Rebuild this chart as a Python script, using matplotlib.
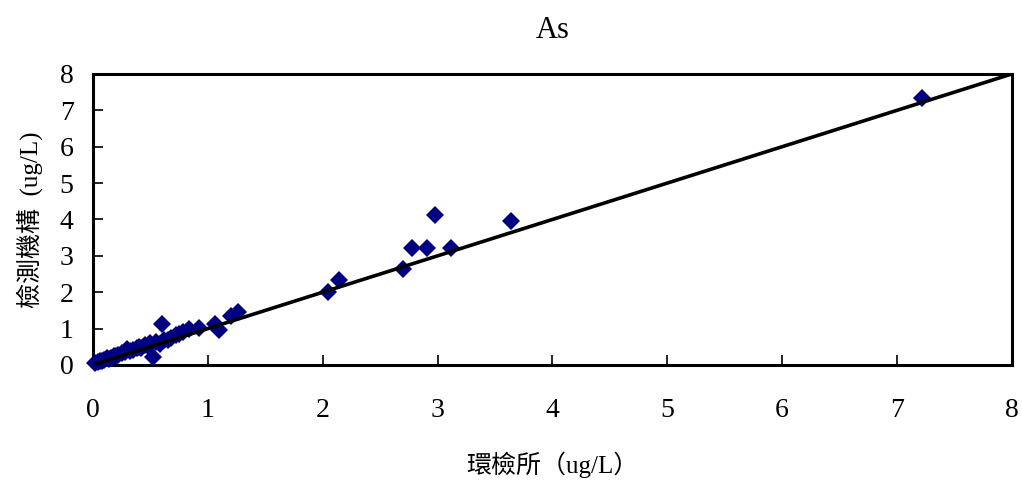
import matplotlib
matplotlib.use("Agg")
import matplotlib.pyplot as plt

# Arsenic results: environmental agency (x) vs. testing labs (y), ug/L
lab_epa = [0.02, 0.04, 0.06, 0.08, 0.10, 0.12, 0.14, 0.16, 0.18, 0.20,
           0.22, 0.25, 0.28, 0.30, 0.32, 0.35, 0.38, 0.40, 0.42, 0.45,
           0.48, 0.50, 0.52, 0.55, 0.58, 0.60, 0.62, 0.65, 0.68, 0.72,
           0.75, 0.78, 0.84, 0.92, 1.06, 1.10, 1.20, 1.26,
           2.05, 2.14, 2.70, 2.78, 2.91, 2.98, 3.12, 3.64, 7.22]
lab_test = [0.05, 0.08, 0.10, 0.12, 0.14, 0.18, 0.17, 0.20, 0.24, 0.25,
            0.28, 0.32, 0.35, 0.45, 0.38, 0.42, 0.48, 0.50, 0.46, 0.55,
            0.52, 0.60, 0.22, 0.62, 0.58, 1.12, 0.70, 0.68, 0.75, 0.82,
            0.86, 0.90, 1.00, 1.02, 1.12, 0.95, 1.35, 1.45,
            2.00, 2.33, 2.65, 3.22, 3.22, 4.12, 3.22, 3.95, 7.33]
ref_line = [0, 8]
ticks = [0, 1, 2, 3, 4, 5, 6, 7, 8]

serif = ["Liberation Serif", "Noto Sans CJK TC"]

fig = plt.figure(figsize=(10.22, 4.8), dpi=100)
ax = fig.add_axes([0.091, 0.2396, 0.899, 0.6063])

ax.plot(lab_epa, lab_test, linestyle="none", marker="D", markersize=9,
        color="#000080", markeredgewidth=0, zorder=3, clip_on=False)
ax.plot(ref_line, ref_line, color="black", linewidth=2.6, zorder=4,
        solid_capstyle="butt")

ax.set_xlim(0, 8)
ax.set_ylim(0, 8)
ax.set_xticks(ticks)
ax.set_yticks(ticks)
ax.set_xticklabels([str(t) for t in ticks], family=serif, fontsize=20)
ax.set_yticklabels([str(t) for t in ticks], family=serif, fontsize=20)
ax.tick_params(direction="in", length=7, width=1.2, colors="black")
ax.tick_params(axis="x", pad=24)
ax.tick_params(axis="y", pad=14)
for sp in ax.spines.values():
    sp.set_linewidth(2.2)
    sp.set_color("black")

ax.set_title("As", family=serif, fontsize=22, pad=26)
ax.set_xlabel("環檢所（ug/L）", family=serif, fontsize=18, labelpad=20)
ax.set_ylabel("檢測機構  (ug/L)", family=serif, fontsize=18, labelpad=12)

fig.savefig("out.png", dpi=100, facecolor="white")
